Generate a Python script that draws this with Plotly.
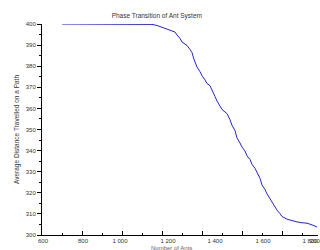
import plotly.graph_objects as go

# Data
steps = [700, 1100, 1150, 1175, 1200, 1225, 1250, 1265, 1275, 1290, 1300, 1315, 1325, 1340,
         1350, 1360, 1375, 1390, 1400, 1415, 1425, 1440, 1450, 1465, 1475, 1490, 1500, 1515,
         1525, 1540, 1550, 1565, 1575, 1590, 1600, 1615, 1625, 1640, 1650, 1665, 1675, 1690,
         1700, 1715, 1725, 1740, 1750, 1765, 1775, 1790, 1800, 1825, 1850, 1875, 1900,
         1925, 1950, 1975]
distance = [400, 400, 399.8, 399.3, 398.5, 397.6, 396.8, 396.2, 394.8, 393.2, 391.5, 390.6, 389.8, 387.9,
            386.5, 383.2, 379.6, 377.4, 375.5, 373.5, 371.8, 370.8, 369.0, 365.6, 363.5, 361.2, 359.5, 358.3,
            357.5, 354.6, 352.0, 349.5, 346.0, 343.6, 341.7, 339.8, 337.5, 335.8, 333.5, 331.6, 329.4, 326.9,
            323.7, 321.6, 319.5, 317.2, 315.5, 313.2, 311.8, 310.1, 308.8, 307.5, 306.8, 306.2, 305.8,
            305.6, 304.8, 303.8]

# Tick labels (as printed, positioned as in the reference)
x_label_pos = [605, 805, 990, 1230, 1465, 1705, 1940, 1972]
x_label_text = ["600", "800", "1 000", "1 200", "1 400", "1 600", "1 800", "2000"]

title_text = "Phase Transition of Ant System"
y_title = "Average Distance Travelled on a Path"
x_title = "Number of Ants"

FONT = "Liberation Sans, Arial, sans-serif"
XR = [600, 1980]

fig = go.Figure()
fig.add_trace(go.Scatter(x=steps, y=distance, mode="lines",
                         line=dict(color="#2323c8", width=1),
                         showlegend=False, hoverinfo="skip"))
fig.add_trace(go.Scatter(x=[None], y=[None], xaxis="x2", mode="lines",
                         showlegend=False, hoverinfo="skip"))

fig.update_layout(
    width=320, height=250,
    margin=dict(l=42, r=2, t=24, b=15),
    paper_bgcolor="white", plot_bgcolor="white",
    font=dict(family=FONT, size=6, color="#333333"),
    title=dict(text=title_text, x=0.49, xanchor="center", y=0.938, yanchor="middle",
               font=dict(size=6.5, color="#333333")),
    xaxis=dict(range=XR, showgrid=False, zeroline=False, showline=True,
               linecolor="black", linewidth=1, ticks="", tickmode="array",
               tickvals=x_label_pos, ticktext=x_label_text, tickangle=0,
               ticklabeloverflow="allow",
               tickfont=dict(size=6, color="#333333"),
               automargin=False),
    xaxis2=dict(range=XR, overlaying="x", side="bottom", showgrid=False,
                zeroline=False, showline=False, showticklabels=False,
                ticks="inside", ticklen=4, tickcolor="black", tick0=600, dtick=200,
                minor=dict(dtick=100, ticks="inside", ticklen=2, tickcolor="black"),
                automargin=False),
    yaxis=dict(range=[300, 400], showgrid=False, zeroline=False, showline=True,
               linecolor="black", linewidth=1, ticks="outside", ticklen=4,
               tickcolor="black", tick0=300, dtick=10,
               minor=dict(dtick=5, ticks="outside", ticklen=2, tickcolor="black"),
               tickfont=dict(size=6, color="#333333"), automargin=False,
               title=dict(text=y_title, font=dict(size=6.5, color="#333333"), standoff=5)),
    annotations=[dict(text=x_title, xref="paper", yref="paper", x=0.47, y=-0.062,
                      xanchor="center", yanchor="middle", showarrow=False,
                      font=dict(size=6, color="#666666"))],
)

fig.write_html("out.html", config={"displayModeBar": False},
               post_script="document.body.style.margin='0';document.body.style.padding='0';")
